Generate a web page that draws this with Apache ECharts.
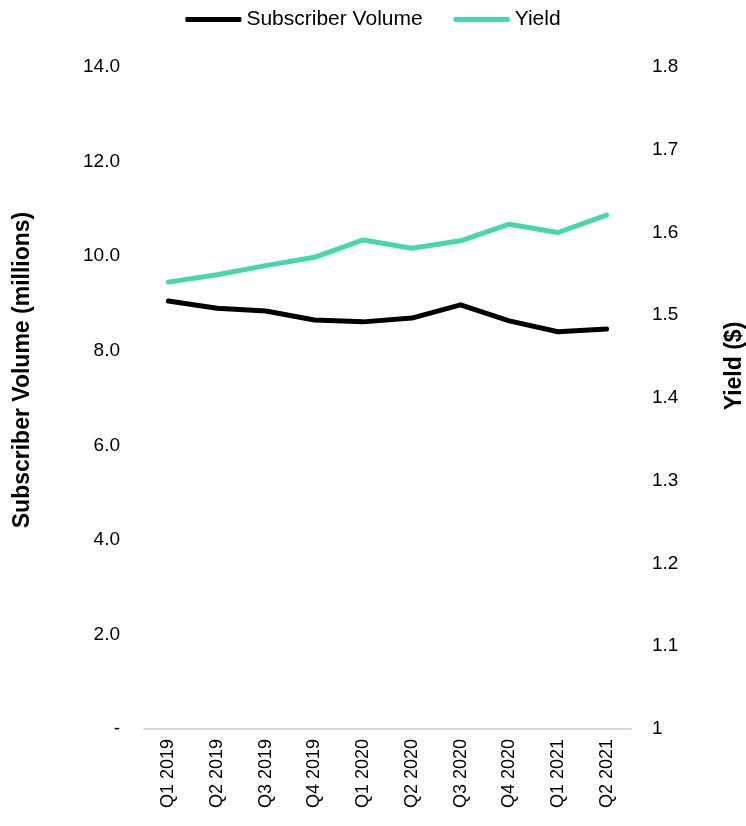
<!DOCTYPE html>
<html>
<head>
<meta charset="utf-8">
<script src="https://cdn.jsdelivr.net/npm/echarts@6/dist/echarts.min.js"></script>
<style>
  html, body { margin: 0; padding: 0; background: #fff; }
  #chart { width: 746px; height: 826px; }
</style>
</head>
<body>
<div id="chart"></div>
<script>
const quarters = ['Q1 2019', 'Q2 2019', 'Q3 2019', 'Q4 2019', 'Q1 2020', 'Q2 2020', 'Q3 2020', 'Q4 2020', 'Q1 2021', 'Q2 2021']
const subscriberVolume = [9.05, 8.9, 8.84, 8.65, 8.61, 8.69, 8.97, 8.63, 8.4, 8.46]
const yieldValues = [1.54, 1.549, 1.56, 1.57, 1.591, 1.581, 1.59, 1.61, 1.6, 1.621]

const font = 'Liberation Sans, Arial, sans-serif'
const myChart = echarts.init(document.getElementById('chart'))

const option = {
  animation: false,
  textStyle: { fontFamily: font },
  legend: {
    top: 4,
    left: 'center',
    itemWidth: 56,
    itemHeight: 5,
    itemGap: 31,
    icon: 'roundRect',
    textStyle: { fontSize: 21, color: '#000', fontFamily: font },
    data: ['Subscriber Volume', 'Yield'],
  },
  grid: {
    left: 144,
    right: 115,
    top: 67,
    bottom: 97,
    outerBoundsMode: 'none',
  },
  xAxis: {
    type: 'category',
    data: quarters,
    boundaryGap: true,
    axisLine: { lineStyle: { color: '#d9d9d9', width: 2 } },
    axisTick: { show: false },
    axisLabel: {
      rotate: 90,
      fontSize: 18,
      color: '#000',
      fontFamily: font,
      margin: 10,
    },
  },
  yAxis: [
    {
      type: 'value',
      min: 0,
      max: 14,
      interval: 2,
      name: 'Subscriber Volume (millions)',
      nameLocation: 'middle',
      nameGap: 110,
      nameRotate: 90,
      nameTextStyle: { fontSize: 23, fontWeight: 'bold', color: '#000', fontFamily: font, padding: [0, 0, 0, 56] },
      axisLine: { show: false },
      axisTick: { show: false },
      splitLine: { show: false },
      axisLabel: {
        fontSize: 19,
        color: '#000',
        fontFamily: font,
        margin: 24,
        formatter: (v) => (v === 0 ? '-' : v.toFixed(1)),
      },
    },
    {
      type: 'value',
      min: 1,
      max: 1.8,
      interval: 0.1,
      name: 'Yield ($)',
      nameLocation: 'middle',
      nameGap: 92,
      nameRotate: 90,
      nameTextStyle: { fontSize: 23, fontWeight: 'bold', color: '#000', fontFamily: font, padding: [0, 0, 0, 64] },
      axisLine: { show: false },
      axisTick: { show: false },
      splitLine: { show: false },
      axisLabel: {
        fontSize: 19,
        color: '#000',
        fontFamily: font,
        margin: 21,
        formatter: (v) => (Math.abs(v - 1) < 1e-9 ? '1' : v.toFixed(1)),
      },
    },
  ],
  series: [
    {
      name: 'Subscriber Volume',
      type: 'line',
      yAxisIndex: 0,
      data: subscriberVolume,
      symbol: 'none',
      lineStyle: { color: '#000', width: 5, cap: 'round', join: 'round' },
      itemStyle: { color: '#000' },
    },
    {
      name: 'Yield',
      type: 'line',
      yAxisIndex: 1,
      data: yieldValues,
      symbol: 'none',
      lineStyle: { color: '#47d7ac', width: 5, cap: 'round', join: 'round' },
      itemStyle: { color: '#47d7ac' },
    },
  ],
}
myChart.setOption(option)
</script>
</body>
</html>
